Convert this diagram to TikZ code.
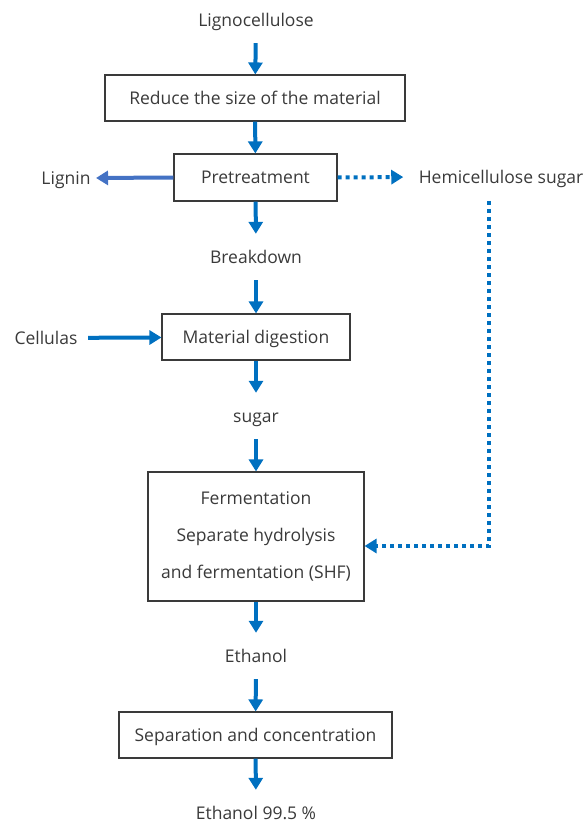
\documentclass[tikz,border=0pt]{standalone}
\usepackage{fontspec}
\setmainfont{Open Sans}
\usetikzlibrary{arrows.meta}
\definecolor{flowblue}{HTML}{0070C0}
\definecolor{ligninblue}{HTML}{4472C4}
\definecolor{txtgray}{HTML}{3A3A3A}

\begin{document}
\begin{tikzpicture}[x=1pt,y=1pt,
  every node/.style={font=\fontsize{17.5}{21}\selectfont, text=txtgray, text height=13pt, text depth=0pt},
  stepbox/.style={draw=txtgray, line width=1.1pt, minimum height=46pt, inner sep=0pt},
  stage/.style={minimum height=46pt, inner sep=0pt},
  flow/.style={draw=flowblue, line width=4pt, -{Triangle[width=14pt,length=12pt]}},
  sideflow/.style={flow, draw=ligninblue, -{Triangle[width=14pt,length=12pt,fill=ligninblue]}},
  dotflow/.style={flow, dash pattern=on 4pt off 4pt}]

\useasboundingbox (0,0) rectangle (587,-826);

%main column of stages
\node[stage] (ligno) at (256,-20) {Lignocellulose};
\node[stepbox, minimum width=300pt] (reduce) at (255,-98) {Reduce the size of the material};
\node[stepbox, minimum width=163pt, minimum height=47pt] (pre) at (255.5,-177.5) {Pretreatment};
\node[stage] (breakdown) at (256,-257) {Breakdown};
\node[stepbox, minimum width=188pt] (digest) at (256,-337) {Material digestion};
\node[stage] (sugar) at (256,-416) {sugar};
\node[stepbox, minimum width=216pt, minimum height=129pt, align=center,
  text height={}, text depth={},
  font=\fontsize{17.5}{37}\selectfont] (ferm) at (256,-536.5)
  {Fermentation\\Separate hydrolysis\\and fermentation (SHF)};
\node[stage] (ethanol) at (256,-656) {Ethanol};
\node[stepbox, minimum width=273pt] (separate) at (255.5,-735) {Separation and concentration};
\node[stage] (final) at (256,-813) {Ethanol 99.5 \%};

%side texts
\node (lignin) at (66,-178) {Lignin};
\node (cellulas) at (46,-338) {Cellulas};
\node (hemi) at (501,-177) {Hemicellulose sugar};
\coordinate (hemidrop) at (489,-201);

%arrows down the column
\draw[flow] (ligno) -- (reduce);
\draw[flow] (reduce) -- (pre);
\draw[flow] (pre) -- (breakdown);
\draw[flow] (breakdown) -- (digest);
\draw[flow] (digest) -- (sugar);
\draw[flow] (sugar) -- (ferm);
\draw[flow] (ferm) -- (ethanol);
\draw[flow] (ethanol) -- (separate);
\draw[flow] (separate) -- (final);

%arrows to the sides
\draw[sideflow, shorten >=2pt] (pre.west) -- (lignin.east);
\draw[flow, shorten <=7pt] (cellulas) -- (digest);
\draw[dotflow, shorten >=12pt] (pre.east) -- (hemi.west);
\draw[dotflow] (hemidrop) |- ([yshift=-9.5pt]ferm.east); %hemicellulose back to fermentation

\end{tikzpicture}
\end{document}
